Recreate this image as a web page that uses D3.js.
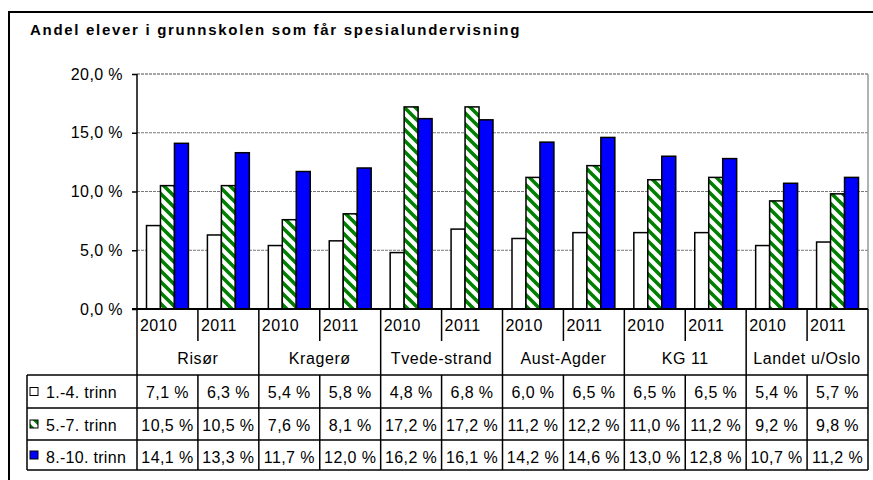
<!DOCTYPE html>
<html>
<head>
<meta charset="utf-8">
<script src="https://cdn.jsdelivr.net/npm/d3@7"></script>
<style>
  body { margin: 0; background: #fff; }
  svg text { font-family: "Liberation Sans", Arial, sans-serif; fill: #000; }
</style>
</head>
<body>
<div id="graf"></div>
<script>
// Data
const kommuner = ["Risør", "Kragerø", "Tvede-strand", "Aust-Agder", "KG 11", "Landet u/Oslo"]
const aar = ["2010", "2011"]
const serier = ["1.-4. trinn", "5.-7. trinn", "8.-10. trinn"]
const trinn1_4 = [7.1, 6.3, 5.4, 5.8, 4.8, 6.8, 6.0, 6.5, 6.5, 6.5, 5.4, 5.7]
const trinn5_7 = [10.5, 10.5, 7.6, 8.1, 17.2, 17.2, 11.2, 12.2, 11.0, 11.2, 9.2, 9.8]
const trinn8_10 = [14.1, 13.3, 11.7, 12.0, 16.2, 16.1, 14.2, 14.6, 13.0, 12.8, 10.7, 11.2]
const yTicks = [0, 5, 10, 15, 20]
const titulo = "Andel elever i grunnskolen som får spesialundervisning"

// kolonner: kommune x aar
const kolonner = kommuner.flatMap(k => aar.map(a => k + "|" + a))
const verdier = [trinn1_4, trinn5_7, trinn8_10]
const data = kolonner.flatMap((c, i) => serier.map((s, j) => ({ kol: c, serie: s, v: verdier[j][i] })))

const loc = d3.formatLocale({ decimal: ",", thousands: " ", grouping: [3], currency: ["", ""] })
const fmt = d => loc.format(".1f")(d) + " %"

const W = 873, H = 480
const plot = { left: 137, right: 868, top: 74, bottom: 309 }
const tabell = { left: 27, yearRow: 341, rows: [375, 408, 440, 470] }

const svg = d3.select("#graf").append("svg")
  .attr("width", W).attr("height", H)

// skravur
const defs = svg.append("defs")
const pat = defs.append("pattern")
  .attr("id", "hatch")
  .attr("patternUnits", "userSpaceOnUse")
  .attr("width", 11).attr("height", 11)
pat.append("rect").attr("width", 11).attr("height", 11).attr("fill", "#fff")
pat.append("path")
  .attr("d", "M-3,-3 L14,14 M-3,8 L3,14 M8,-3 L14,3")
  .attr("stroke", "#008000").attr("stroke-width", 3.6)

// ramme
svg.append("rect")
  .attr("x", 9).attr("y", 12).attr("width", W).attr("height", H)
  .attr("fill", "none").attr("stroke", "#000").attr("stroke-width", 2)

svg.append("text")
  .attr("x", 30).attr("y", 35)
  .attr("font-size", 15).attr("font-weight", "bold")
  .attr("letter-spacing", 1.7)
  .text(titulo)

// skalaer
const x = d3.scaleBand().domain(kolonner).range([plot.left, plot.right])
const xInner = d3.scaleBand().domain(serier).range([0, x.bandwidth()]).paddingOuter(0.68)
const y = d3.scaleLinear().domain([0, 20]).range([plot.bottom, plot.top])
const farge = d3.scaleOrdinal().domain(serier).range(["#fff", "url(#hatch)", "#0000ff"])

// rutenett
svg.append("g").selectAll("line").data(yTicks.filter(d => d > 0)).join("line")
  .attr("x1", plot.left).attr("x2", plot.right)
  .attr("y1", d => y(d)).attr("y2", d => y(d))
  .attr("stroke", d => d == 20 ? "#888" : "#777")
  .attr("stroke-width", d => d == 20 ? 1.5 : 1)
  .attr("stroke-dasharray", "3,1")
svg.append("line")
  .attr("x1", plot.right).attr("x2", plot.right)
  .attr("y1", plot.top).attr("y2", plot.bottom)
  .attr("stroke", "#999").attr("stroke-width", 1.5)

// y-akse
const yAxis = d3.axisLeft(y).tickValues(yTicks).tickSize(5).tickPadding(9).tickFormat(fmt)
const yg = svg.append("g").attr("transform", `translate(${plot.left},0)`).call(yAxis)
yg.select(".domain").remove()
yg.selectAll("line").attr("stroke", "#000").attr("stroke-width", 1.5)
yg.selectAll("text").attr("font-size", 16).attr("font-family", null).attr("letter-spacing", 0.4)

// stolper
svg.append("g").selectAll("rect").data(data).join("rect")
  .attr("x", d => x(d.kol) + xInner(d.serie))
  .attr("y", d => y(d.v))
  .attr("width", xInner.bandwidth())
  .attr("height", d => y(0) - y(d.v))
  .attr("fill", d => farge(d.serie))
  .attr("stroke", "#000").attr("stroke-width", 1.5)

// akselinjer
svg.append("line")
  .attr("x1", plot.left - 5).attr("x2", plot.right)
  .attr("y1", plot.bottom).attr("y2", plot.bottom)
  .attr("stroke", "#000").attr("stroke-width", 2)
svg.append("line")
  .attr("x1", plot.left).attr("x2", plot.left)
  .attr("y1", plot.top).attr("y2", tabell.rows[3])
  .attr("stroke", "#000").attr("stroke-width", 1.5)

// kategoritabell
const tg = svg.append("g")
tg.selectAll("text.aar").data(kolonner).join("text")
  .attr("x", d => x(d) + 3).attr("y", 331)
  .attr("font-size", 16).attr("letter-spacing", 0.4)
  .text(d => d.split("|")[1])
tg.selectAll("line.aarsep").data(kolonner.filter((d, i) => i % 2 == 1)).join("line")
  .attr("x1", d => x(d)).attr("x2", d => x(d))
  .attr("y1", plot.bottom).attr("y2", tabell.yearRow)
  .attr("stroke", "#000").attr("stroke-width", 1.5)
tg.selectAll("line.gruppe").data(kolonner.filter((d, i) => i % 2 == 0 && i > 0).concat(["end"])).join("line")
  .attr("x1", d => d == "end" ? plot.right : x(d)).attr("x2", d => d == "end" ? plot.right : x(d))
  .attr("y1", plot.bottom).attr("y2", tabell.rows[3])
  .attr("stroke", "#000").attr("stroke-width", 1.5)
tg.selectAll("text.kommune").data(kommuner).join("text")
  .attr("x", d => x(d + "|2010") + x.bandwidth())
  .attr("y", 364)
  .attr("text-anchor", "middle")
  .attr("font-size", 16).attr("letter-spacing", 0.6)
  .text(d => d)

// datatabell
tg.selectAll("line.rad").data(tabell.rows).join("line")
  .attr("x1", tabell.left).attr("x2", plot.right)
  .attr("y1", d => d).attr("y2", d => d)
  .attr("stroke", "#000").attr("stroke-width", 1.5)
tg.append("line")
  .attr("x1", tabell.left).attr("x2", tabell.left)
  .attr("y1", tabell.rows[0]).attr("y2", tabell.rows[3])
  .attr("stroke", "#000").attr("stroke-width", 1.5)
tg.selectAll("line.kol").data(kolonner.filter((d, i) => i % 2 == 1)).join("line")
  .attr("x1", d => x(d)).attr("x2", d => x(d))
  .attr("y1", tabell.rows[0]).attr("y2", tabell.rows[3])
  .attr("stroke", "#000").attr("stroke-width", 1.5)

const baselines = [398, 431, 463]
serier.forEach((s, j) => {
  const rowMid = (tabell.rows[j] + tabell.rows[j + 1]) / 2
  tg.append("rect")
    .attr("x", 30).attr("y", rowMid - 4).attr("width", 8).attr("height", 8)
    .attr("fill", farge(s)).attr("stroke", "#000").attr("stroke-width", 1)
  tg.append("text")
    .attr("x", 46).attr("y", baselines[j])
    .attr("font-size", 16).attr("letter-spacing", 0.3)
    .text(s)
  tg.selectAll("text.v" + j).data(verdier[j]).join("text")
    .attr("x", (d, i) => x(kolonner[i]) + x.bandwidth() / 2)
    .attr("y", baselines[j])
    .attr("text-anchor", "middle")
    .attr("font-size", 16).attr("letter-spacing", 0.4)
    .text(d => fmt(d))
})
</script>
</body>
</html>
